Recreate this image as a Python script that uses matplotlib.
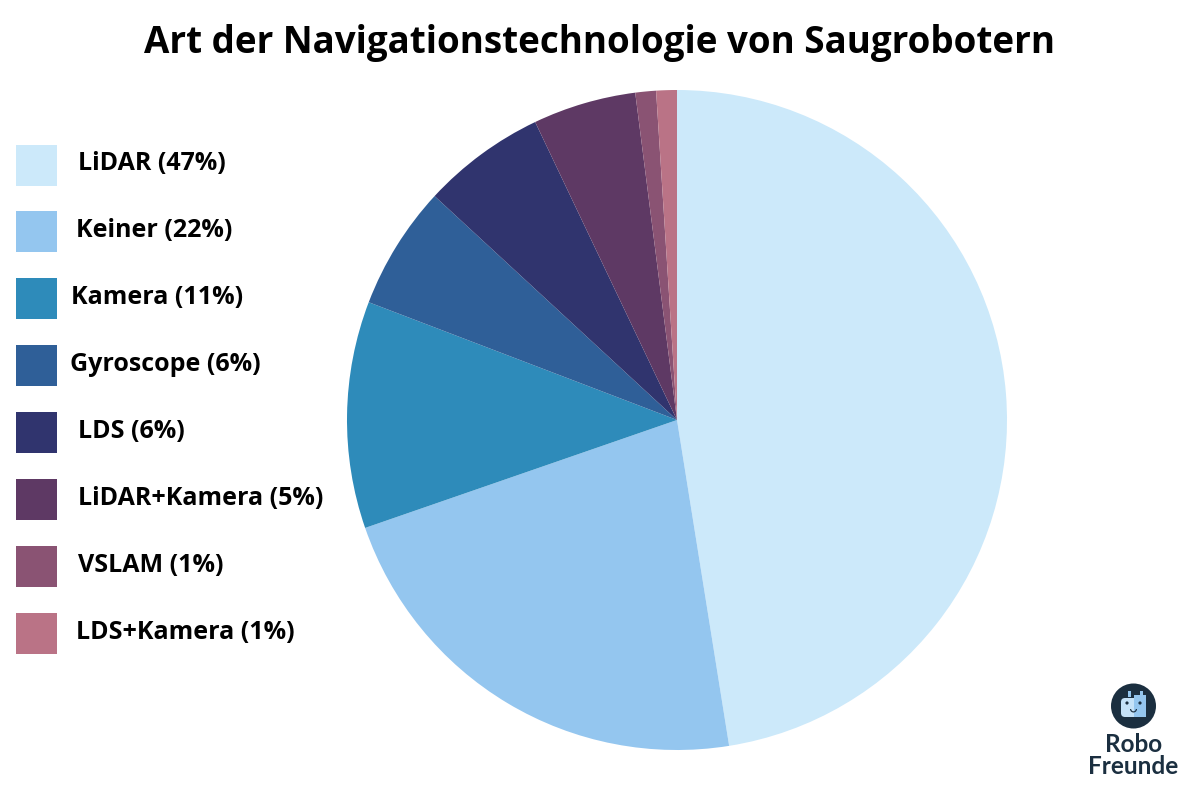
import matplotlib
matplotlib.use('Agg')
import matplotlib.pyplot as plt
from matplotlib.patches import Rectangle, Circle, FancyBboxPatch, Wedge

plt.rcParams['font.family'] = ['Open Sans', 'DejaVu Sans']

W, H = 1200, 800

labels = ['LiDAR', 'Keiner', 'Kamera', 'Gyroscope', 'LDS', 'LiDAR+Kamera', 'VSLAM', 'LDS+Kamera']
values = [47, 22, 11, 6, 6, 5, 1, 1]
colors = ['#cce9fa', '#94c6ef', '#2e8bba', '#2f5f98', '#30346e', '#5e3964', '#8a5373', '#ba7386']
label_x = [78, 76, 71, 70, 78, 78, 78, 76]

fig = plt.figure(figsize=(W / 100, H / 100), dpi=100, facecolor='white')

# overlay in pixel coordinates for the legend, title and logo
canvas = fig.add_axes([0, 0, 1, 1])
canvas.set_xlim(0, W)
canvas.set_ylim(H, 0)
canvas.axis('off')

# pie, clockwise from 12 o'clock
cx, cy, r = 677, 420, 330
ax = fig.add_axes([(cx - r) / W, (H - cy - r) / H, 2 * r / W, 2 * r / H])
ax.pie(values, colors=colors, startangle=90, counterclock=False, radius=1,
       wedgeprops={'linewidth': 0})
ax.set_xlim(-1, 1)
ax.set_ylim(-1, 1)

canvas.text(599, 43, 'Art der Navigationstechnologie von Saugrobotern', fontsize=26.5,
            fontweight='bold', ha='center', va='center', color='black')

# legend
for i, (name, val, col, lx) in enumerate(zip(labels, values, colors, label_x)):
    y = 165 + i * 66.9
    canvas.add_patch(Rectangle((16, y - 20.5), 41, 41, facecolor=col, edgecolor='none'))
    canvas.text(lx, y - 1, f'{name} ({val}%)', fontsize=18, fontweight='bold',
                ha='left', va='center', color='black')

# logo
navy = '#1b2f40'
canvas.add_patch(Circle((1133.5, 706), 22.5, facecolor=navy, edgecolor='none'))
canvas.add_patch(FancyBboxPatch((1121, 698), 25, 19, boxstyle='round,pad=0,rounding_size=4',
                                facecolor='#c5e2f8', edgecolor='none'))
canvas.add_patch(Rectangle((1133.5, 695), 12.5, 22, facecolor='#94c6ef', edgecolor='none'))
canvas.add_patch(Rectangle((1128, 690.5), 2.5, 6, facecolor='#94c6ef', edgecolor='none'))
canvas.add_patch(Rectangle((1140, 690.5), 2.5, 6, facecolor='#94c6ef', edgecolor='none'))
canvas.add_patch(Circle((1127, 703), 1.6, facecolor=navy, edgecolor='none'))
canvas.add_patch(Circle((1140, 703), 1.6, facecolor=navy, edgecolor='none'))
canvas.add_patch(Wedge((1133.5, 709), 3.5, 0, 180, width=1.2, facecolor=navy, edgecolor='none'))
canvas.text(1133.5, 745, 'Robo', fontsize=17.5, fontweight='bold', ha='center', va='center',
            color=navy, family=['Lato', 'DejaVu Sans'])
canvas.text(1133.5, 767, 'Freunde', fontsize=17.5, fontweight='bold', ha='center', va='center',
            color=navy, family=['Lato', 'DejaVu Sans'])

fig.savefig('out.png', dpi=100)
